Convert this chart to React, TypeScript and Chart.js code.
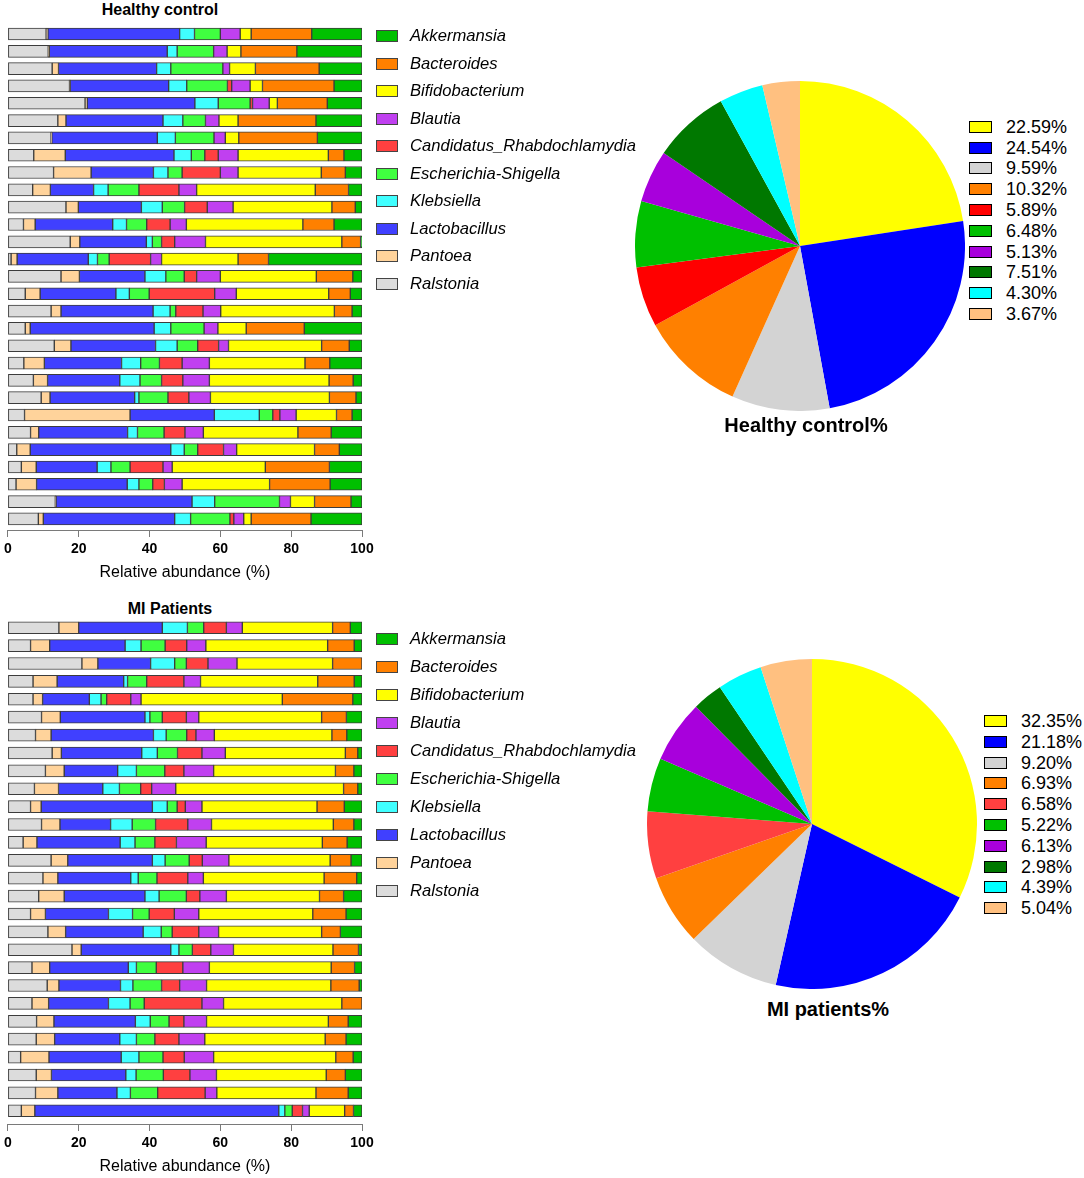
import { useEffect, useRef } from "react";
import Chart from "chart.js/auto";

const FONT = '"Liberation Sans", Arial, Helvetica, sans-serif';

// genera in stacking order, left to right inside every bar
const genera = [
  "Ralstonia",
  "Pantoea",
  "Lactobacillus",
  "Klebsiella",
  "Escherichia-Shigella",
  "Candidatus_Rhabdochlamydia",
  "Blautia",
  "Bifidobacterium",
  "Bacteroides",
  "Akkermansia",
];
const barColors = ["#dcdcdc", "#ffd39b", "#4040ff", "#40ffff", "#40ff40", "#ff4040", "#c040f0", "#ffff00", "#ff8000", "#00c000"];
const xTicks = [0, 20, 40, 60, 80, 100];
const xTitle = "Relative abundance (%)";

// Healthy control samples (top to bottom), relative abundance %
const hcRalstonia = [10.8, 11.4, 12.5, 17.4, 21.8, 14.1, 12.2, 7.3, 12.9, 7.0, 16.4, 4.4, 17.6, 0.9, 15.0, 4.9, 12.2, 4.9, 13.1, 4.5, 7.2, 9.4, 4.7, 6.4, 2.5, 3.8, 2.3, 13.4, 8.6];
const hcPantoea = [0.5, 0.3, 1.8, 0.2, 0.6, 2.3, 0.2, 8.9, 10.6, 5.0, 3.5, 3.3, 2.7, 1.7, 5.2, 4.2, 2.8, 1.4, 4.7, 5.8, 4.0, 2.5, 29.8, 2.3, 3.8, 4.2, 5.8, 0.2, 1.4];
const hcLactobacillus = [37.2, 33.3, 27.7, 27.8, 30.4, 27.4, 29.8, 30.7, 17.6, 12.2, 17.8, 21.9, 18.8, 20.1, 18.5, 21.4, 26.0, 35.0, 23.9, 21.8, 20.4, 23.9, 23.8, 25.1, 39.7, 17.2, 25.6, 38.4, 37.1];
const hcKlebsiella = [4.2, 2.8, 4.0, 5.1, 6.6, 5.6, 5.1, 4.9, 4.1, 4.1, 5.9, 3.9, 1.7, 2.6, 5.9, 3.8, 4.8, 4.7, 6.1, 5.4, 5.7, 1.2, 12.7, 2.8, 3.8, 3.9, 3.3, 6.4, 4.5];
const hcEscherichia = [7.3, 10.3, 14.7, 11.5, 9.0, 6.4, 10.9, 3.8, 4.0, 8.7, 6.3, 5.7, 2.6, 3.3, 5.2, 5.6, 1.6, 9.4, 5.8, 5.3, 6.1, 8.2, 3.8, 7.5, 3.8, 5.4, 3.9, 18.3, 11.1];
const hcCandidatus = [0, 0, 0, 1.2, 0.7, 0, 0, 3.8, 10.8, 11.3, 6.4, 6.6, 3.7, 11.7, 3.5, 18.5, 7.7, 0, 5.9, 6.4, 6.0, 5.9, 2.0, 5.9, 7.3, 9.3, 3.3, 0, 1.1];
const hcBlautia = [5.6, 3.8, 1.9, 5.2, 4.7, 3.8, 3.2, 5.6, 5.0, 5.0, 7.3, 4.6, 8.7, 3.1, 6.7, 6.1, 5.0, 3.9, 2.8, 7.7, 7.5, 6.1, 4.6, 5.2, 3.7, 2.6, 5.0, 3.1, 2.8];
const hcBifidobacterium = [3.1, 3.9, 7.3, 3.5, 2.3, 5.4, 3.8, 25.5, 23.5, 33.5, 27.9, 32.9, 38.5, 21.6, 27.1, 26.1, 32.1, 8.0, 26.3, 27.0, 33.8, 33.6, 11.4, 26.7, 22.0, 26.3, 24.7, 6.8, 2.1];
const hcBacteroides = [17.1, 15.8, 18.0, 20.2, 14.1, 22.0, 22.2, 4.4, 6.8, 9.4, 6.6, 8.8, 5.3, 8.6, 10.3, 6.1, 5.0, 16.4, 7.8, 7.0, 6.8, 7.5, 4.4, 9.4, 7.0, 18.1, 17.1, 10.3, 16.9];
const hcAkkermansia = [14.2, 18.4, 12.1, 7.9, 9.8, 13.0, 12.6, 5.1, 4.7, 3.8, 1.9, 7.9, 0.4, 26.4, 2.6, 3.3, 2.8, 16.3, 3.6, 9.1, 2.5, 1.7, 2.8, 8.7, 6.4, 9.2, 9.0, 3.1, 14.4];

// MI patient samples (top to bottom), relative abundance %
const miRalstonia = [14.4, 6.4, 20.9, 7.1, 7.1, 9.5, 7.8, 12.5, 10.6, 7.5, 6.4, 9.5, 4.3, 12.2, 9.9, 8.7, 6.4, 11.3, 18.1, 6.8, 11.1, 6.8, 8.1, 8.0, 3.6, 8.0, 7.8, 3.8];
const miPantoea = [5.6, 5.4, 4.5, 6.8, 2.7, 5.3, 4.4, 2.6, 5.3, 6.8, 3.0, 5.2, 3.9, 4.7, 4.2, 7.2, 4.2, 5.0, 2.6, 5.0, 3.3, 4.7, 4.9, 5.2, 8.0, 4.3, 6.3, 3.8];
const miLactobacillus = [23.6, 21.3, 14.9, 18.8, 13.2, 23.9, 28.9, 22.7, 15.1, 12.5, 31.4, 14.3, 23.5, 23.9, 20.6, 22.8, 17.8, 21.9, 25.3, 22.2, 17.4, 16.9, 23.0, 18.4, 20.4, 21.0, 16.7, 68.9];
const miKlebsiella = [7.1, 4.5, 6.8, 1.1, 3.3, 1.4, 3.6, 4.4, 5.3, 4.7, 4.2, 6.1, 4.2, 3.6, 2.1, 4.0, 6.8, 5.1, 2.3, 2.3, 3.5, 6.1, 4.2, 4.7, 5.0, 2.9, 3.8, 1.7];
const miEscherichia = [4.6, 6.8, 3.3, 5.4, 1.6, 3.5, 5.8, 5.7, 8.0, 6.0, 2.8, 6.6, 5.6, 6.8, 5.3, 7.7, 4.7, 3.1, 3.8, 5.6, 8.1, 4.0, 5.3, 5.2, 6.8, 7.7, 7.7, 2.1];
const miCandidatus = [6.4, 6.1, 6.1, 10.5, 6.8, 6.8, 2.6, 6.9, 5.4, 3.1, 2.3, 9.1, 6.1, 3.7, 8.7, 3.8, 7.1, 7.5, 5.2, 7.5, 5.1, 16.3, 4.2, 6.8, 6.0, 7.5, 13.4, 2.9];
const miBlautia = [4.5, 5.4, 8.2, 4.7, 2.9, 3.5, 5.2, 6.6, 8.4, 6.8, 4.7, 6.7, 8.4, 7.5, 4.4, 7.5, 6.9, 5.6, 6.4, 7.5, 7.6, 6.1, 6.4, 7.3, 8.3, 7.5, 3.3, 1.9];
const miBifidobacterium = [25.5, 34.4, 27.0, 33.1, 39.9, 34.7, 33.2, 33.9, 34.4, 47.4, 32.5, 34.4, 32.8, 28.6, 34.1, 26.3, 32.2, 29.1, 28.1, 34.4, 35.1, 33.4, 34.4, 34.0, 34.5, 31.0, 28.0, 10.0];
const miBacteroides = [5.0, 7.5, 8.3, 10.3, 19.9, 7.0, 4.2, 3.5, 5.2, 4.0, 7.7, 5.8, 7.0, 5.9, 9.2, 6.8, 9.4, 5.3, 7.2, 6.6, 8.0, 5.7, 5.6, 5.9, 4.9, 5.4, 9.1, 2.5];
const miAkkermansia = [3.3, 2.2, 0, 2.2, 2.6, 4.4, 4.3, 1.2, 2.3, 1.2, 5.0, 2.3, 4.2, 3.1, 1.5, 5.2, 4.5, 6.1, 1.0, 2.1, 0.8, 0, 3.9, 4.5, 2.5, 4.7, 3.9, 2.4];

// pie slices, clockwise from 12 o'clock
const hcPie = [22.59, 24.54, 9.59, 10.32, 5.89, 6.48, 5.13, 7.51, 4.3, 3.67];
const hcPieColors = ["#ffff00", "#0000ff", "#d3d3d3", "#ff8000", "#ff0000", "#00c000", "#a800dc", "#007800", "#00ffff", "#ffc080"];
const miPie = [32.35, 21.18, 9.2, 6.93, 6.58, 5.22, 6.13, 2.98, 4.39, 5.04];
const miPieColors = ["#ffff00", "#0000ff", "#d3d3d3", "#ff8000", "#ff4040", "#00c000", "#a800dc", "#007800", "#00ffff", "#ffc080"];

const hcSeries = [hcRalstonia, hcPantoea, hcLactobacillus, hcKlebsiella, hcEscherichia, hcCandidatus, hcBlautia, hcBifidobacterium, hcBacteroides, hcAkkermansia];
const miSeries = [miRalstonia, miPantoea, miLactobacillus, miKlebsiella, miEscherichia, miCandidatus, miBlautia, miBifidobacterium, miBacteroides, miAkkermansia];

interface BarsProps {
  series: number[][];
  top: number;
  height: number;
  padTop: number;
  yMin: number;
  yMax: number;
}

function StackedBars({ series, top, height, padTop, yMin, yMax }: BarsProps) {
  const chartRef = useRef<HTMLCanvasElement | null>(null);

  useEffect(() => {
    if (!chartRef.current) return;
    const chart = new Chart(chartRef.current, {
      type: "bar",
      data: {
        datasets: series.map((vals, k) => ({
          label: genera[k],
          data: vals.map((v, i) => ({ x: v, y: i })),
          backgroundColor: barColors[k],
          borderColor: "#3c3c3c",
          borderWidth: 1,
          borderSkipped: false,
          barThickness: 12,
        })),
      },
      options: {
        indexAxis: "y",
        responsive: false,
        animation: false,
        layout: { padding: { top: padTop, left: 7, right: 18, bottom: 0 } },
        plugins: { legend: { display: false }, tooltip: { enabled: false } },
        scales: {
          x: {
            type: "linear",
            stacked: true,
            min: 0,
            max: 100,
            afterBuildTicks: (scale: any) => {
              scale.ticks = xTicks.map((value) => ({ value }));
            },
            afterFit: (scale: any) => {
              scale.height = 54;
            },
            ticks: { font: { family: FONT, size: 14, weight: "bold" }, color: "#000", padding: 4 },
            grid: { drawOnChartArea: false, drawTicks: true, tickLength: 7, color: "#7a7a7a" },
            border: { display: true, color: "#7a7a7a", width: 1 },
            title: {
              display: true,
              text: xTitle,
              font: { family: FONT, size: 16 },
              color: "#000",
              padding: { top: 0, bottom: 2 },
            },
          },
          y: {
            type: "linear",
            stacked: true,
            display: false,
            reverse: true,
            offset: false,
            bounds: "data",
            min: yMin,
            max: yMax,
            grid: { offset: false },
            afterBuildTicks: (scale: any) => {
              // keep the row range exactly as set
              scale.min = yMin;
              scale.max = yMax;
            },
          },
        },
      },
    } as any);
    return () => chart.destroy();
  }, [series, padTop, yMin, yMax]);

  return <canvas ref={chartRef} width={380} height={height} style={{ position: "absolute", left: 0, top }} />;
}

function PieChart({ values, colors, left, top }: { values: number[]; colors: string[]; left: number; top: number }) {
  const chartRef = useRef<HTMLCanvasElement | null>(null);

  useEffect(() => {
    if (!chartRef.current) return;
    const chart = new Chart(chartRef.current, {
      type: "pie",
      data: {
        labels: values.map((v) => v.toFixed(2) + "%"),
        datasets: [{ data: values, backgroundColor: colors, borderWidth: 0 }],
      },
      options: {
        responsive: false,
        animation: false,
        plugins: { legend: { display: false }, tooltip: { enabled: false } },
      },
    });
    return () => chart.destroy();
  }, [values, colors]);

  return <canvas ref={chartRef} width={330} height={330} style={{ position: "absolute", left, top }} />;
}

function Title({ text, cx, cy, size }: { text: string; cx: number; cy: number; size: number }) {
  return (
    <div
      style={{
        position: "absolute",
        left: cx - 150,
        top: cy - 15,
        width: 300,
        height: 30,
        lineHeight: "30px",
        textAlign: "center",
        fontWeight: "bold",
        fontSize: size,
        color: "#000",
      }}
    >
      {text}
    </div>
  );
}

function GenusLegend({ y0, step }: { y0: number; step: number }) {
  // legend lists the genera in reverse stacking order
  const order = genera.map((_, k) => k).reverse();
  return (
    <>
      {order.map((k, i) => (
        <div
          key={k}
          style={{ position: "absolute", left: 376, top: y0 + i * step - 10, height: 20, display: "flex", alignItems: "center" }}
        >
          <div
            style={{
              width: 22,
              height: 12,
              boxSizing: "border-box",
              border: "1px solid #444",
              background: barColors[k],
            }}
          />
          <span style={{ marginLeft: 12, fontSize: 16.6, fontStyle: "italic", lineHeight: "20px", whiteSpace: "nowrap" }}>
            {genera[k]}
          </span>
        </div>
      ))}
    </>
  );
}

function PieLegend({ values, colors, left, y0, step }: { values: number[]; colors: string[]; left: number; y0: number; step: number }) {
  return (
    <>
      {values.map((v, i) => (
        <div
          key={i}
          style={{ position: "absolute", left, top: y0 + i * step - 10, height: 20, display: "flex", alignItems: "center" }}
        >
          <div
            style={{
              width: 23,
              height: 12,
              boxSizing: "border-box",
              border: "1.5px solid #000",
              background: colors[i],
            }}
          />
          <span style={{ marginLeft: 14, fontSize: 18, lineHeight: "20px", whiteSpace: "nowrap" }}>{v.toFixed(2)}%</span>
        </div>
      ))}
    </>
  );
}

export default function App() {
  return (
    <div
      style={{
        position: "absolute",
        left: 0,
        top: 0,
        width: 1084,
        height: 1178,
        overflow: "hidden",
        background: "#fff",
        fontFamily: FONT,
        color: "#000",
      }}
    >
      <Title text="Healthy control" cx={160} cy={10} size={16} />
      <StackedBars series={hcSeries} top={0} height={584} padTop={23.6} yMin={-0.6} yMax={28.64} />
      <GenusLegend y0={36} step={27.5} />
      <PieChart values={hcPie} colors={hcPieColors} left={635} top={81} />
      <PieLegend values={hcPie} colors={hcPieColors} left={969} y0={126.7} step={20.8} />
      <Title text="Healthy control%" cx={806} cy={425} size={20} />

      <Title text="MI Patients" cx={170} cy={609} size={16} />
      <StackedBars series={miSeries} top={590} height={588} padTop={27} yMin={-0.6} yMax={27.74} />
      <GenusLegend y0={639} step={28} />
      <PieChart values={miPie} colors={miPieColors} left={647} top={659} />
      <PieLegend values={miPie} colors={miPieColors} left={984} y0={721} step={20.8} />
      <Title text="MI patients%" cx={828} cy={1009} size={20} />
    </div>
  );
}
